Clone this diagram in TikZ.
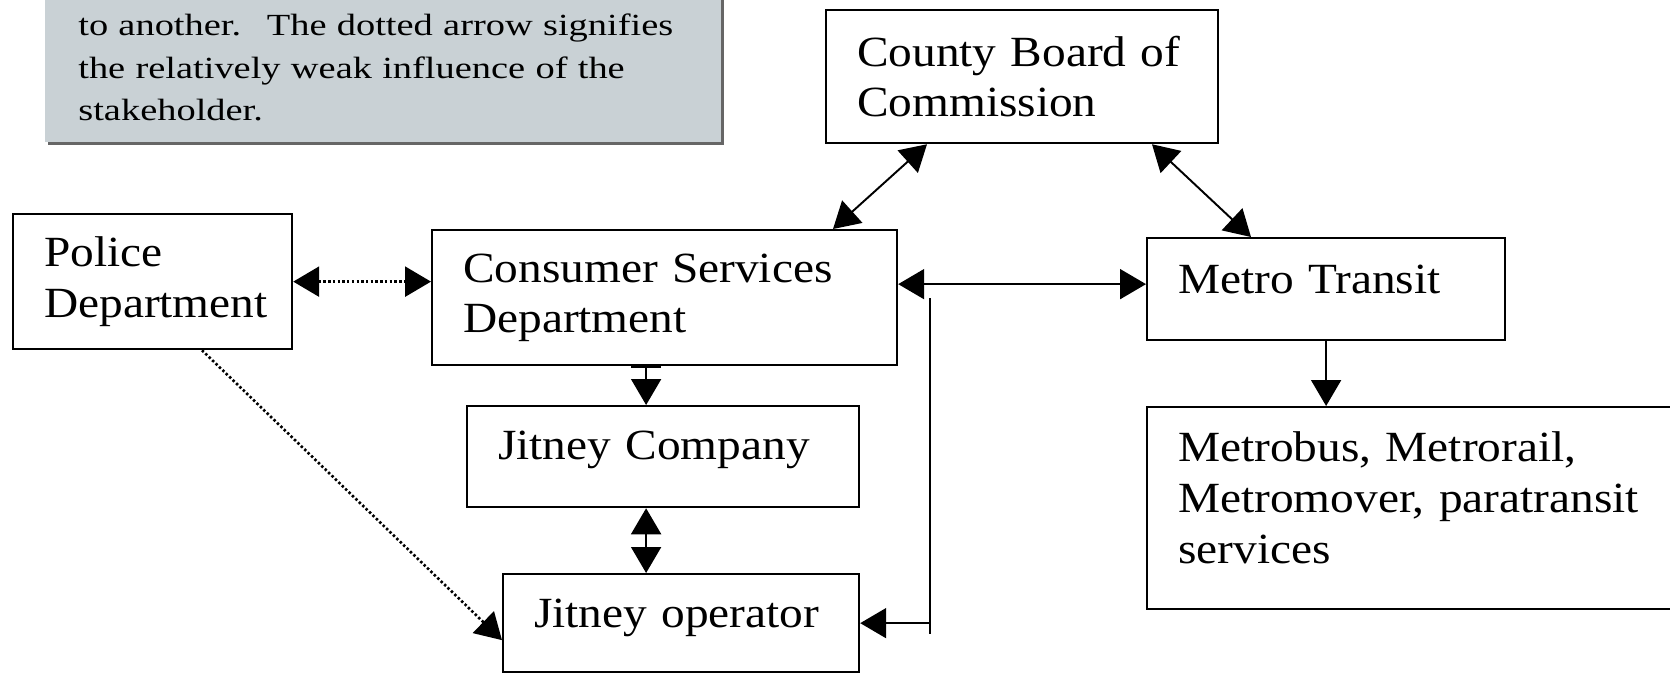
\documentclass[tikz,border=0pt]{standalone}
\usepackage{fontspec}
\setmainfont{Liberation Serif}
\newfontfamily\boxfont[FakeStretch=1.1]{Liberation Serif}
\newfontfamily\notefont[FakeStretch=1.25]{Liberation Serif}
\usetikzlibrary{arrows.meta, calc, shadows}
\definecolor{notegray}{HTML}{C9D1D5}
\tikzstyle{unit} = [rectangle, 
anchor=north west, 
draw=black, 
line width=1.3pt, 
fill=white, 
align=left, 
inner xsep=0.62cm, 
font=\boxfont\fontsize{24.5}{28.5}\selectfont]
\tikzstyle{note} = [rectangle, 
anchor=south west, 
fill=notegray, 
drop shadow={shadow xshift=0.06cm, shadow yshift=-0.07cm, fill=black!60, opacity=1}, 
align=left, 
text width=12.2cm, 
inner xsep=0.66cm, 
inner ysep=0.42cm, 
font=\notefont\fontsize{17.5}{24}\selectfont]
\tikzstyle{arrow} = [line width=1.1pt,->,>={Triangle[length=0.52cm,width=0.6cm]}]
\tikzstyle{twoway} = [arrow,<->]
\tikzstyle{weak} = [line width=1.5pt, dash pattern=on 1.4pt off 1.3pt]

\begin{document}
\begin{tikzpicture}[x=0.02cm, y=-0.02cm]
  \useasboundingbox (0,0) rectangle (1670,673);
  \clip (0,0) rectangle (1670,673);
  \fill [white] (0,0) rectangle (1670,673);

  \node (note) [note] at (45,142) {to another.~ The dotted arrow signifies\\the relatively weak influence of the\\stakeholder.};

  \node (county) [unit, text width=6.6cm, minimum height=2.66cm] at (825,9) {County Board of\\Commission};
  \node (police) [unit, text width=4.34cm, minimum height=2.7cm] at (12,213) {Police\\Department};
  \node (consumer) [unit, text width=8.06cm, minimum height=2.7cm] at (431,229) {Consumer Services\\Department};
  \node (metro) [unit, text width=5.92cm, minimum height=2.04cm, text depth=0.4cm] at (1146,237) {Metro Transit};
  \node (company) [unit, text width=6.6cm, minimum height=2.02cm, text depth=0.47cm] at (466,405) {Jitney Company};
  \node (operator) [unit, text width=5.88cm, minimum height=1.96cm, text depth=0.39cm] at (502,573) {Jitney operator};
  \node (services) [unit, text width=9.64cm, minimum height=4.04cm, text depth=2.45cm, font=\boxfont\fontsize{24.5}{29}\selectfont] at (1146,406) {Metrobus, Metrorail,\\Metromover, paratransit\\services};

  \coordinate (tapup) at (930,298);
  \coordinate (tapdown) at (930,634);

  \draw [twoway] ($(county.south west)+(102,0)$) -- ($(consumer.north west)+(402,0)$);
  \draw [twoway] ($(county.south west)+(327,0)$) -- ($(metro.north west)+(105,0)$);
  \draw [twoway, weak] (police.east) -- (police.east -| consumer.west);
  \draw [twoway] ([yshift=0.1cm]metro.west -| consumer.east) -- ([yshift=0.1cm]metro.west);
  \draw [line width=1.1pt] (tapup) -- (tapdown);
  \draw [arrow] (tapdown |- operator.east) -- (operator.east);
  \draw [arrow, {Bar[width=0.6cm]}->] ([xshift=-0.34cm]company.north |- consumer.south) -- ([xshift=-0.34cm]company.north);
  \draw [twoway] ([xshift=-0.34cm]company.south) -- ([xshift=-0.34cm]company.south |- operator.north);
  \draw [arrow] (metro.south) -- (metro.south |- services.north);
  \draw [arrow, weak] ($(police.south west)+(190,0)$) -- ([yshift=-0.34cm]operator.west);
\end{tikzpicture}
\end{document}
